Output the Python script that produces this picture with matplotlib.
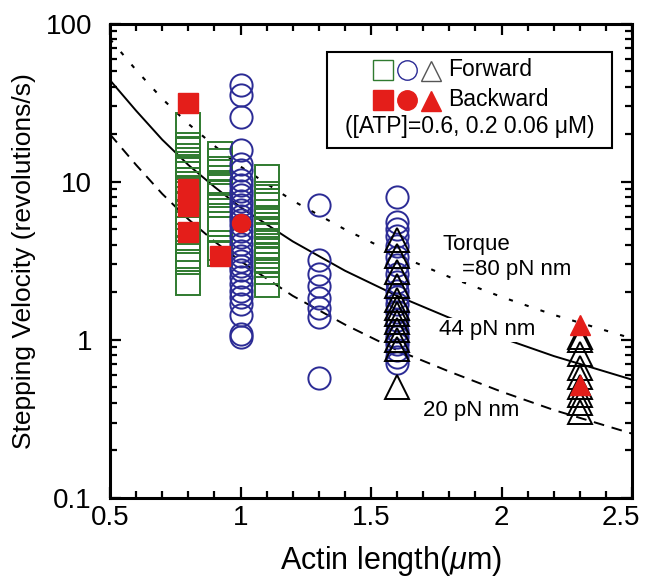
import matplotlib
matplotlib.use('Agg')
import matplotlib.pyplot as plt
from matplotlib.patches import Rectangle
from matplotlib.ticker import FixedLocator, MultipleLocator, NullFormatter
from matplotlib.transforms import ScaledTranslation

plt.rcParams['font.family'] = ['Liberation Sans', 'DejaVu Sans']
plt.rcParams['mathtext.fontset'] = 'custom'
plt.rcParams['mathtext.it'] = 'Liberation Sans:italic'
plt.rcParams['mathtext.rm'] = 'Liberation Sans'

# Data: forward squares ([ATP]=0.6 uM), three actin-length columns
sq_len = [0.80, 0.92, 1.10]
sq_vel = [
    [22.8, 17.1, 15.9, 14.6, 13.7, 13.0, 12.4, 11.8, 10.3, 8.95, 7.83, 7.09,
     6.4, 5.95, 5.4, 5.0, 4.24, 3.77, 3.4, 3.1, 2.3],
    [15.1, 13.5, 12.1, 11.5, 9.8, 9.3, 8.6, 7.1, 5.85, 5.4, 5.0, 3.8, 3.5],
    [10.8, 8.4, 8.0, 7.6, 7.1, 6.4, 5.85, 5.3, 4.9, 4.6, 4.25, 3.95, 3.65,
     3.4, 3.2, 2.96, 2.7, 2.22],
]
sq_back_len = [0.80, 0.80, 0.80, 0.80, 0.80, 0.92]
sq_back_vel = [31.6, 9.0, 8.0, 7.0, 4.8, 3.4]

# Forward circles ([ATP]=0.2 uM)
ci_len = [1.00, 1.30, 1.60]
ci_vel = [
    [40.8, 35.6, 25.7, 15.8, 13.0, 11.8, 10.2, 9.5, 8.8, 8.2, 7.6, 7.1, 6.6,
     6.1, 5.7, 5.3, 4.9, 4.5, 4.06, 3.67, 3.4, 3.17, 2.95, 2.75, 2.49, 2.26,
     2.05, 1.86, 1.69, 1.43, 1.09, 1.05],
    [7.1, 3.2, 2.6, 2.2, 1.85, 1.6, 1.4, 0.57],
    [8.0, 5.6, 5.06, 4.57, 3.95, 3.34, 2.96, 2.62, 2.32, 2.05, 1.86, 1.69,
     1.5, 1.33, 1.14, 1.04, 0.94, 0.86, 0.78, 0.71],
]
ci_back_len = [1.00]
ci_back_vel = [5.5]

# Forward triangles ([ATP]=0.06 uM)
tr_len = [1.60, 2.30]
tr_vel = [
    [4.3, 3.4, 2.7, 2.2, 1.8, 1.6, 1.45, 1.3, 1.15, 1.0, 0.88, 0.5],
    [1.05, 1.0, 0.82, 0.66, 0.58, 0.5, 0.45, 0.4, 0.35],
]
tr_back_len = [2.30, 2.30]
tr_back_vel = [1.25, 0.52]

# Theoretical curves
curve_len = [0.5, 0.6, 0.7, 0.8, 0.9, 1.0, 1.2, 1.4, 1.6, 1.8, 2.0, 2.2, 2.5]
curve_80 = [80, 51, 33.6, 23.3, 16.9, 12.5, 7.6, 5.0, 3.45, 2.5, 1.87, 1.44, 1.02]
curve_44 = [44, 28.2, 18.5, 12.8, 9.3, 6.9, 4.2, 2.74, 1.9, 1.38, 1.03, 0.79, 0.56]
curve_20 = [20, 12.8, 8.4, 5.8, 4.2, 3.15, 1.9, 1.25, 0.86, 0.63, 0.47, 0.36, 0.255]

green = '#2f7a2f'
blue = '#2b2b95'
red = '#e41e1a'

fig = plt.figure(figsize=(6.47, 5.81), dpi=100)
ax = fig.add_axes([0.170, 0.143, 0.807, 0.816])

# curves
ax.plot(curve_len, curve_80, color='black', lw=1.5, dashes=(2, 6), zorder=2)
ax.plot(curve_len, curve_44, color='black', lw=1.4, zorder=2)
ax.plot(curve_len, curve_20, color='black', lw=1.4, dashes=(5.5, 4), zorder=2)

# forward points
for x, vals in zip(sq_len, sq_vel):
    ax.plot([x] * len(vals), vals, ls='none', marker='s', ms=17, mfc='none',
            mec=green, mew=1.4, zorder=3)
for x, vals in zip(ci_len, ci_vel):
    ax.plot([x] * len(vals), vals, ls='none', marker='o', ms=16, mfc='none',
            mec=blue, mew=1.4, zorder=3)
for x, vals in zip(tr_len, tr_vel):
    ax.plot([x] * len(vals), vals, ls='none', marker='^', ms=17, mfc='none',
            mec='black', mew=1.4, zorder=3)

# backward points
ax.plot(sq_back_len, sq_back_vel, ls='none', marker='s', ms=14, mfc=red, mec=red, zorder=4)
ax.plot(ci_back_len, ci_back_vel, ls='none', marker='o', ms=13, mfc=red, mec=red, zorder=4)
ax.plot(tr_back_len, tr_back_vel, ls='none', marker='^', ms=15, mfc=red, mec=red, zorder=4)

# curve labels
lab = dict(fontsize=16, zorder=6, va='center', ha='left',
           bbox=dict(facecolor='white', edgecolor='none', pad=1))
ax.text(1.775, 4.0, 'Torque', **lab)
ax.text(1.85, 2.78, '=80 pN nm', **lab)
ax.text(1.76, 1.16, '44 pN nm', **lab)
ax.text(1.70, 0.36, '20 pN nm', **lab)

# legend box
ax.add_patch(Rectangle((0.416, 0.738), 0.546, 0.203, transform=ax.transAxes,
                       facecolor='white', edgecolor='black', lw=1.5, zorder=7))
lk = dict(transform=ax.transAxes, ls='none', zorder=8, ms=14)
ax.plot([0.523], [0.903], marker='s', mfc='none', mec=green, mew=1.0, **lk)
ax.plot([0.569], [0.903], marker='o', mfc='none', mec=blue, mew=1.0, **lk)
ax.plot([0.615], [0.900], marker='^', mfc='none', mec='#555555', mew=1.0, **lk)
ax.plot([0.523], [0.840], marker='s', mfc=red, mec=red, **lk)
ax.plot([0.569], [0.840], marker='o', mfc=red, mec=red, **lk)
ax.plot([0.615], [0.837], marker='^', mfc=red, mec=red, **lk)
ax.text(0.648, 0.903, 'Forward', transform=ax.transAxes, fontsize=16.5,
        va='center', ha='left', zorder=8)
ax.text(0.648, 0.840, 'Backward', transform=ax.transAxes, fontsize=16.5,
        va='center', ha='left', zorder=8)
ax.text(0.689, 0.783, '([ATP]=0.6, 0.2 0.06 \u03bcM)', transform=ax.transAxes,
        fontsize=16.5, va='center', ha='center', zorder=8)

# axes
ax.set_yscale('log')
ax.set_xlim(0.5, 2.5)
ax.set_ylim(0.1, 100)
ax.xaxis.set_major_locator(FixedLocator([0.5, 1, 1.5, 2, 2.5]))
ax.xaxis.set_minor_locator(MultipleLocator(0.1))
ax.set_xticklabels(['0.5', '1', '1.5', '2', '2.5'])
ax.yaxis.set_major_locator(FixedLocator([0.1, 1, 10, 100]))
ax.set_yticklabels(['0.1', '1', '10', '100'])
ax.yaxis.set_minor_formatter(NullFormatter())
ax.tick_params(which='both', direction='in', top=True, right=True, width=1.6,
               labelsize=20)
ax.tick_params(which='major', length=8)
ax.tick_params(which='minor', length=5)
ax.tick_params(axis='x', which='major', pad=5)
ax.tick_params(axis='y', which='major', pad=13)
for s in ax.spines.values():
    s.set_linewidth(2.2)

# last x label sits a little left of its tick, as in the figure
ax.get_xticklabels()[-1].set_transform(
    ax.get_xticklabels()[-1].get_transform()
    + ScaledTranslation(-8 / 72, 0, fig.dpi_scale_trans))

ax.set_xlabel('Actin length($\\mu$m)', fontsize=22)
ax.xaxis.set_label_coords(0.538, -0.097)
ax.set_ylabel('Stepping Velocity (revolutions/s)', fontsize=19)
ax.yaxis.set_label_coords(-0.142, 0.5)

fig.savefig('out.png', dpi=100)
